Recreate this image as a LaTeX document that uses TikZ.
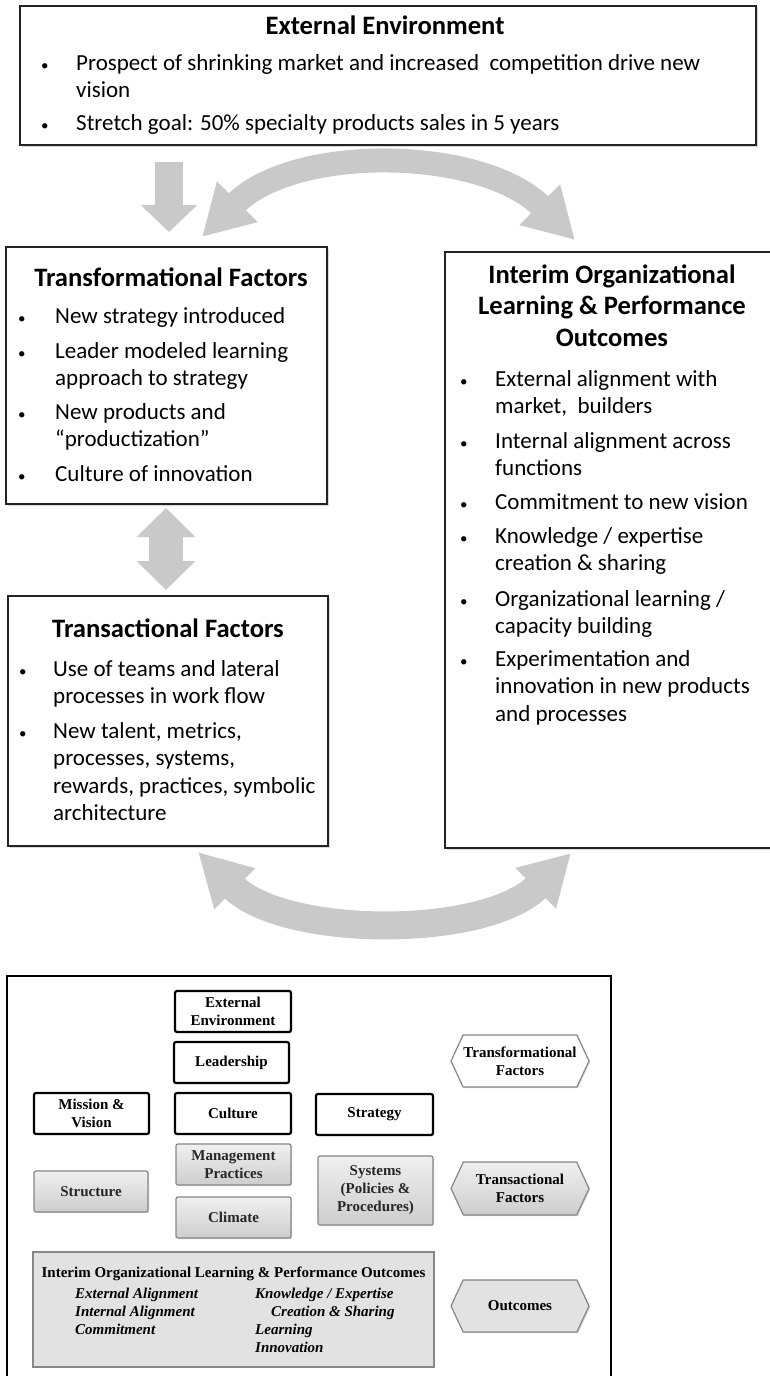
\documentclass[tikz,border=0pt]{standalone}
\usepackage{fontspec}
\setmainfont{Carlito}
\newfontfamily\timesfam{Liberation Serif}
\usetikzlibrary{arrows.meta,shapes.symbols,shadows}

\definecolor{arrowgray}{RGB}{201,201,201}
\definecolor{framegray}{RGB}{35,35,35}
\definecolor{edgegray}{RGB}{135,135,135}
\definecolor{shadelight}{RGB}{240,240,240}
\definecolor{shadedark}{RGB}{205,205,205}
\definecolor{granite}{RGB}{226,226,226}

\newcommand{\bodysize}{\fontsize{23pt}{27.5pt}\selectfont}
\newcommand{\dotsize}{\fontsize{15pt}{15pt}\selectfont}
\newcommand{\headsize}{\fontsize{26.6pt}{31.5pt}\selectfont\bfseries}
\newcommand{\panelsize}{\timesfam\fontsize{15pt}{18pt}\selectfont\bfseries}

\tikzset{
  bigbox/.style={draw=framegray, line width=2.2pt, fill=white, inner sep=0pt,
    drop shadow={shadow xshift=1.5pt, shadow yshift=-1.5pt, opacity=0.3}},
  heading/.style={inner sep=0pt, anchor=base, font=\headsize},
  bodyline/.style={inner sep=0pt, anchor=base west, font=\bodysize},
  bulletmark/.style={inner sep=0pt, anchor=base west, font=\dotsize},
  flowarrow/.style={draw=arrowgray},
  panelframe/.style={draw=black, line width=1.8pt, fill=white, inner sep=0pt},
  whitebox/.style={draw=black, line width=2.2pt, rounded corners=2pt, fill=white,
    inner sep=0pt, align=center, font=\panelsize,
    drop shadow={shadow xshift=1pt, shadow yshift=-1pt, opacity=0.25}},
  graybox/.style={draw=edgegray, line width=1.2pt, rounded corners=2pt,
    top color=shadelight, bottom color=shadedark, inner sep=0pt, align=center,
    font=\panelsize, text=black!85,
    drop shadow={shadow xshift=1.2pt, shadow yshift=-1.2pt, opacity=0.3}},
  hexbox/.style={shape=signal, signal to=east and west, signal pointer angle=130,
    line width=1.2pt, draw=edgegray, inner sep=0pt, align=center, font=\panelsize,
    minimum width=138pt, minimum height=52pt,
    drop shadow={shadow xshift=1.2pt, shadow yshift=-1.2pt, opacity=0.3}},
  paneltext/.style={inner sep=0pt, font=\panelsize},
}

\begin{document}
\begin{tikzpicture}[x=1pt, y=-1pt]
\useasboundingbox (0,0) rectangle (770,1376);
\clip (0,0) rectangle (770,1376);

% ---------- upper diagram: boxes ----------
\node[bigbox, minimum width=736pt, minimum height=139pt] (ext) at (388,75.5) {};
\node[bigbox, minimum width=321pt, minimum height=257pt] (trf) at (166.5,375.5) {};
\node[bigbox, minimum width=350pt, minimum height=596pt] (intr) at (620,550) {};
\node[bigbox, minimum width=320pt, minimum height=250pt] (trn) at (168,721) {};

% External Environment
\node[heading] (extT) at (385,34) {External Environment};
\node[bulletmark] (extB1) at (41,70) {•};
\node[bodyline] (extL1) at (76,70) {\parbox[t]{680pt}{Prospect of shrinking market and increased\ \ competition drive new\\vision}};
\node[bulletmark] (extB2) at (41,130) {•};
\node[bodyline] (extL2) at (76,130) {Stretch goal: 50\% specialty products sales in 5 years};

% Transformational Factors
\node[heading] (trfT) at (171,286) {Transformational Factors};
\node[bulletmark] (trfB1) at (18,323) {•};
\node[bodyline] (trfL1) at (55,323) {New strategy introduced};
\node[bulletmark] (trfB2) at (18,358) {•};
\node[bodyline] (trfL2) at (55,358) {\parbox[t]{270pt}{Leader modeled learning\\approach to strategy}};
\node[bulletmark] (trfB3) at (18,419) {•};
\node[bodyline] (trfL3) at (55,419) {\parbox[t]{270pt}{New products and\\“productization”}};
\node[bulletmark] (trfB4) at (18,481) {•};
\node[bodyline] (trfL4) at (55,481) {Culture of innovation};

% Interim outcomes
\node[heading] (intrT) at (612,283) {\parbox[t]{320pt}{\centering Interim Organizational\\Learning \& Performance\\Outcomes}};
\node[bulletmark] (intrB1) at (460,386) {•};
\node[bodyline] (intrL1) at (495,386) {\parbox[t]{280pt}{External alignment with\\market,\ \ builders}};
\node[bulletmark] (intrB2) at (460,448) {•};
\node[bodyline] (intrL2) at (495,448) {\parbox[t]{280pt}{Internal alignment across\\functions}};
\node[bulletmark] (intrB3) at (460,509) {•};
\node[bodyline] (intrL3) at (495,509) {Commitment to new vision};
\node[bulletmark] (intrB4) at (460,543) {•};
\node[bodyline] (intrL4) at (495,543) {\parbox[t]{280pt}{Knowledge / expertise\\creation \& sharing}};
\node[bulletmark] (intrB5) at (460,606) {•};
\node[bodyline] (intrL5) at (495,606) {\parbox[t]{280pt}{Organizational learning /\\capacity building}};
\node[bulletmark] (intrB6) at (460,666) {•};
\node[bodyline] (intrL6) at (495,666) {\parbox[t]{280pt}{Experimentation and\\innovation in new products\\and processes}};

% Transactional Factors
\node[heading] (trnT) at (168,637) {Transactional Factors};
\node[bulletmark] (trnB1) at (19,676) {•};
\node[bodyline] (trnL1) at (53,676) {\parbox[t]{280pt}{Use of teams and lateral\\processes in work flow}};
\node[bulletmark] (trnB2) at (19,738) {•};
\node[bodyline] (trnL2) at (53,738) {\parbox[t]{280pt}{New talent, metrics,\\processes, systems,\\rewards, practices, symbolic\\architecture}};

% ---------- upper diagram: arrows ----------
\coordinate (dnFrom) at (169,162);
\coordinate (dnTo) at (169,232);
\draw[flowarrow, line width=28pt, -{Triangle[width=55pt,length=27pt]}] (dnFrom) -- (dnTo);

\coordinate (topL) at (202,237);
\coordinate (topR) at (575,240);
\draw[flowarrow, line width=24pt,
  {Triangle[width=54pt,length=50pt]}-{Triangle[width=54pt,length=50pt]}]
  (topL) .. controls (295,144) and (482,147) .. (topR);

\coordinate (vUp) at (166,508);
\coordinate (vDn) at (166,590);
\draw[flowarrow, line width=34pt,
  {Triangle[width=57pt,length=29pt]}-{Triangle[width=57pt,length=29pt]}] (vUp) -- (vDn);

\coordinate (botL) at (198,852);
\coordinate (botR) at (571,853);
\draw[flowarrow, line width=28pt,
  {Triangle[width=54pt,length=52pt]}-{Triangle[width=54pt,length=50pt]}]
  (botL) .. controls (284,938) and (485,939) .. (botR);

% ---------- lower panel ----------
\node[panelframe, minimum width=604pt, minimum height=424pt] (panel) at (309,1188) {};

\node[whitebox, minimum width=116pt, minimum height=41pt] (pExt) at (233,1011.5) {External\\Environment};
\node[whitebox, minimum width=115pt, minimum height=41pt] (pLead) at (231.5,1062.5) {Leadership};
\node[whitebox, minimum width=115pt, minimum height=41pt] (pMis) at (91.5,1113.5) {Mission \&\\Vision};
\node[whitebox, minimum width=116pt, minimum height=41pt] (pCul) at (233,1113.5) {Culture};
\node[whitebox, minimum width=117pt, minimum height=41pt] (pStr) at (374.5,1114.5) {Strategy};

\node[graybox, minimum width=115pt, minimum height=41pt] (pMgt) at (233.5,1164.5) {Management\\Practices};
\node[graybox, minimum width=114pt, minimum height=41pt] (pStu) at (91,1191.5) {Structure};
\node[graybox, minimum width=115pt, minimum height=41pt] (pCli) at (233.5,1217.5) {Climate};
\node[graybox, minimum width=115pt, minimum height=69pt] (pSys) at (375.5,1190.5) {Systems\\(Policies \&\\Procedures)};

\node[hexbox, fill=white] (hTrf) at (520,1061) {Transformational\\Factors};
\node[hexbox, top color=shadelight, bottom color=shadedark, minimum height=53pt] (hTrn) at (520,1188.5) {Transactional\\Factors};
\node[hexbox, fill=granite] (hOut) at (520,1306) {Outcomes};

\node[draw=edgegray, line width=1.2pt, fill=granite, minimum width=401pt, minimum height=115pt,
  drop shadow={shadow xshift=1.2pt, shadow yshift=-1.2pt, opacity=0.3}] (pInt) at (233.5,1309.5) {};
\node[paneltext, anchor=base] (pIntT) at (233.5,1277) {Interim Organizational Learning \& Performance Outcomes};
\node[paneltext, anchor=base west] (pIntA) at (75,1298) {\parbox[t]{170pt}{\itshape External Alignment\\Internal Alignment\\Commitment}};
\node[paneltext, anchor=base west] (pIntB) at (255,1298) {\parbox[t]{170pt}{\itshape Knowledge / Expertise\\\hspace*{16pt}Creation \& Sharing\\Learning\\Innovation}};

\end{tikzpicture}
\end{document}
